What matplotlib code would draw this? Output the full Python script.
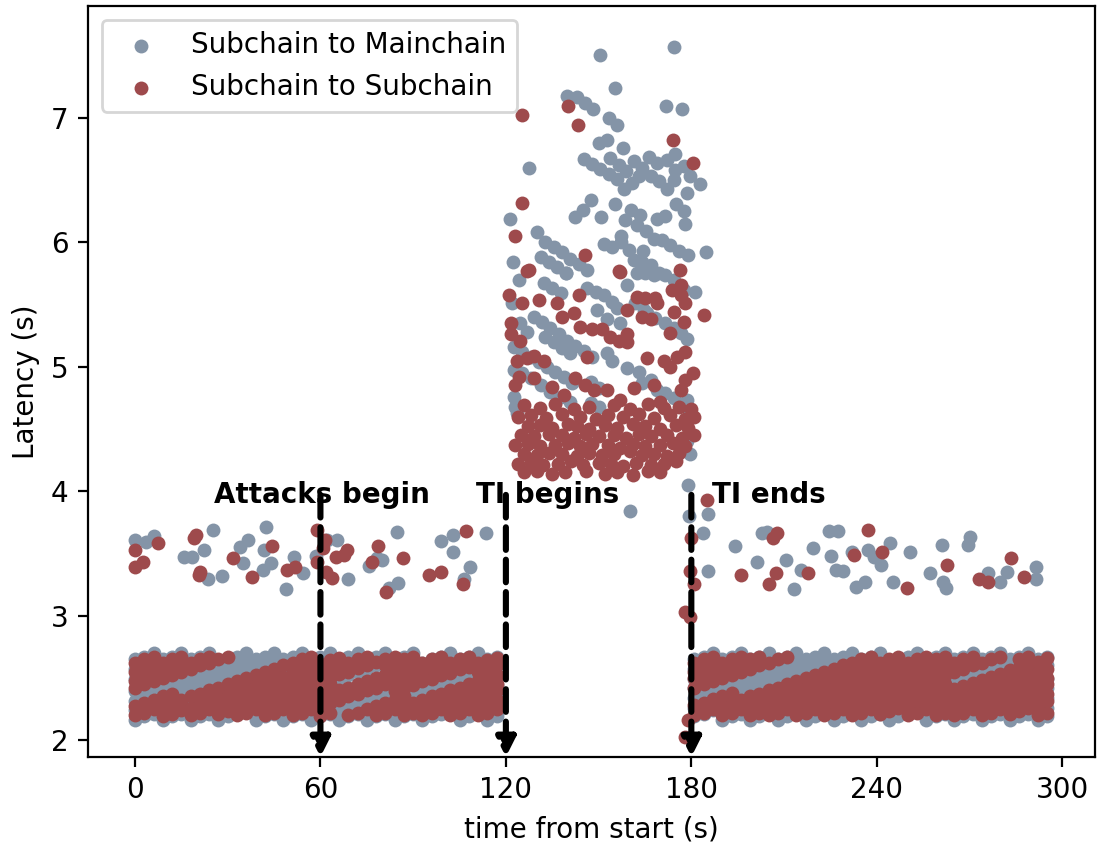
import matplotlib
matplotlib.use("Agg")
import matplotlib.pyplot as plt

GRAY = "#8494a7"
RED = "#9e4a4c"
N = None

# ---------------- time grids of the two dense bands (s) ----------------
t_left = [0, 3, 6, 9, 12, 15, 18, 21, 24, 27, 30, 33, 36, 39, 42, 45, 48, 51, 54, 57,
          60, 63, 66, 69, 72, 75, 78, 81, 84, 87, 90, 93, 96, 99, 102, 105, 108, 111, 114, 117]
t_right = [181, 184, 187, 190, 193, 196, 199, 202, 205, 208, 211, 214, 217, 220, 223, 226, 229,
           232, 235, 238, 241, 244, 247, 250, 253, 256, 259, 262, 265, 268, 271, 274, 277, 280,
           283, 286, 289, 292, 295]

# ---------------- Subchain to Mainchain: stripes of the dense bands ----------------
sm_left_stripes = [
    [2.16,2.19,2.21,2.24,2.26,2.29,2.31,2.34,2.37,2.39,2.42,2.44,2.47,2.49,2.52,2.55,2.57,2.60,2.62,2.65,2.67,2.70,
     2.16,2.19,2.21,2.24,2.26,2.29,2.31,2.34,2.37,2.39,2.42,2.44,2.47,2.49,2.52,2.55,2.57,2.60],
    [2.24,2.26,2.29,2.31,2.34,2.37,2.39,2.42,2.44,2.47,2.49,2.52,2.55,2.57,2.60,2.62,2.65,2.67,2.70,
     2.16,2.19,2.21,2.24,2.26,2.29,2.31,2.34,2.37,2.39,2.42,2.44,2.47,2.49,2.52,2.55,2.57,2.60,2.62,2.65,2.67],
    [2.31,2.34,2.37,2.39,2.42,2.44,2.47,2.49,2.52,2.55,2.57,2.60,2.62,2.65,2.67,2.70,
     2.16,2.19,2.21,2.24,2.26,2.29,2.31,2.34,2.37,2.39,2.42,2.44,2.47,2.49,2.52,2.55,2.57,2.60,2.62,2.65,2.67,2.70,
     2.16,2.19],
    [2.39,2.42,2.44,2.47,2.49,2.52,2.55,2.57,2.60,2.62,2.65,2.67,2.70,
     2.16,2.19,2.21,2.24,2.26,2.29,2.31,2.34,2.37,2.39,2.42,2.44,2.47,2.49,2.52,2.55,2.57,2.60,2.62,2.65,2.67,2.70,
     2.16,2.19,2.21,2.24,2.26],
    [2.49,2.52,2.55,2.57,2.60,2.62,2.65,2.67,2.70,
     2.16,2.19,2.21,2.24,2.26,2.29,2.31,2.34,2.37,2.39,2.42,2.44,2.47,2.49,2.52,2.55,2.57,2.60,2.62,2.65,2.67,2.70,
     2.16,2.19,2.21,2.24,2.26,2.29,2.31,2.34,2.37],
    [2.57,2.60,2.62,2.65,2.67,2.70,
     2.16,2.19,2.21,2.24,2.26,2.29,2.31,2.34,2.37,2.39,2.42,2.44,2.47,2.49,2.52,2.55,2.57,2.60,2.62,2.65,2.67,2.70,
     2.16,2.19,2.21,2.24,2.26,2.29,2.31,2.34,2.37,2.39,2.42,2.44],
    [2.65,2.67,2.70,
     2.16,2.19,2.21,2.24,2.26,2.29,2.31,2.34,2.37,2.39,2.42,2.44,2.47,2.49,2.52,2.55,2.57,2.60,2.62,2.65,2.67,2.70,
     2.16,2.19,2.21,2.24,2.26,2.29,2.31,2.34,2.37,2.39,2.42,2.44,2.47,2.49,2.52],
]
sm_right_stripes = [
    [2.19,2.21,2.24,2.26,2.29,2.31,2.34,2.37,2.39,2.42,2.44,2.47,2.49,2.52,2.55,2.57,2.60,2.62,2.65,2.67,2.70,
     2.16,2.19,2.21,2.24,2.26,2.29,2.31,2.34,2.37,2.39,2.42,2.44,2.47,2.49,2.52,2.55,2.57,2.60],
    [2.26,2.29,2.31,2.34,2.37,2.39,2.42,2.44,2.47,2.49,2.52,2.55,2.57,2.60,2.62,2.65,2.67,2.70,
     2.16,2.19,2.21,2.24,2.26,2.29,2.31,2.34,2.37,2.39,2.42,2.44,2.47,2.49,2.52,2.55,2.57,2.60,2.62,2.65,2.67],
    [2.34,2.37,2.39,2.42,2.44,2.47,2.49,2.52,2.55,2.57,2.60,2.62,2.65,2.67,2.70,
     2.16,2.19,2.21,2.24,2.26,2.29,2.31,2.34,2.37,2.39,2.42,2.44,2.47,2.49,2.52,2.55,2.57,2.60,2.62,2.65,2.67,2.70,
     2.16,2.19],
    [2.42,2.44,2.47,2.49,2.52,2.55,2.57,2.60,2.62,2.65,2.67,2.70,
     2.16,2.19,2.21,2.24,2.26,2.29,2.31,2.34,2.37,2.39,2.42,2.44,2.47,2.49,2.52,2.55,2.57,2.60,2.62,2.65,2.67,2.70,
     2.16,2.19,2.21,2.24,2.26],
    [2.49,2.52,2.55,2.57,2.60,2.62,2.65,2.67,2.70,
     2.16,2.19,2.21,2.24,2.26,2.29,2.31,2.34,2.37,2.39,2.42,2.44,2.47,2.49,2.52,2.55,2.57,2.60,2.62,2.65,2.67,2.70,
     2.16,2.19,2.21,2.24,2.26,2.29,2.31,2.34],
    [2.57,2.60,2.62,2.65,2.67,2.70,
     2.16,2.19,2.21,2.24,2.26,2.29,2.31,2.34,2.37,2.39,2.42,2.44,2.47,2.49,2.52,2.55,2.57,2.60,2.62,2.65,2.67,2.70,
     2.16,2.19,2.21,2.24,2.26,2.29,2.31,2.34,2.37,2.39,2.42],
    [2.65,2.67,2.70,
     2.16,2.19,2.21,2.24,2.26,2.29,2.31,2.34,2.37,2.39,2.42,2.44,2.47,2.49,2.52,2.55,2.57,2.60,2.62,2.65,2.67,2.70,
     2.16,2.19,2.21,2.24,2.26,2.29,2.31,2.34,2.37,2.39,2.42,2.44,2.47,2.49],
]

# ---------------- Subchain to Subchain: stripes of the dense bands (None = no point) ----------------
ss_left_stripes = [
    [2.20,2.22,2.25,2.27,2.30,2.32,2.35,2.37,2.40,2.42,2.45,2.47,2.50,2.52,2.55,2.57,2.60,2.62,2.65,2.67,
     2.19,2.22,N,N,N,N,N,N,2.39,2.42,2.44,2.47,2.49,2.52,2.54,2.57,2.59,2.62,2.64,2.66],
    [2.27,2.30,2.32,2.35,2.37,N,N,N,N,N,N,N,N,N,N,N,N,
     2.20,2.22,2.25,2.27,2.30,2.32,2.35,2.37,2.40,2.42,2.45,2.47,2.50,2.52,2.55,2.57,2.60,2.62,2.65,2.67,
     2.20,2.22,2.25],
    [N,N,N,N,N,N,N,N,N,N,N,N,N,N,
     2.20,2.22,2.25,2.27,2.30,2.32,2.35,2.37,2.40,2.42,2.45,2.47,2.50,2.52,2.55,2.57,2.60,2.62,2.65,2.67,
     2.20,2.22,2.25,2.27,2.30,2.32],
    [2.42,2.45,2.47,2.50,2.52,2.55,2.57,2.60,2.62,2.65,2.67,
     2.20,2.22,2.25,2.27,2.30,2.32,2.35,2.37,2.40,2.42,2.45,N,N,N,N,N,2.60,2.62,2.65,2.67,
     2.20,2.22,2.25,2.27,2.30,2.32,2.35,2.37,2.40],
    [2.47,2.50,2.52,2.55,2.57,2.60,2.62,2.65,2.67,
     2.21,2.23,2.25,2.28,2.30,2.33,2.35,2.38,2.40,2.43,2.45,2.48,2.50,2.53,2.55,2.58,2.60,2.63,2.65,2.67,
     2.20,2.22,2.25,2.27,2.30,2.32,2.35,2.37,2.40,2.42,2.45],
    [2.55,2.57,2.60,2.62,2.65,2.67,
     2.20,2.22,2.25,2.27,2.30,2.32,2.35,2.37,2.40,2.42,2.45,2.47,2.50,2.52,2.55,2.57,2.60,2.62,2.65,2.67,
     2.20,2.22,2.25,2.27,2.30,2.32,2.35,2.37,2.40,2.42,2.45,2.47,2.50,2.52],
    [2.62,2.65,2.67,
     2.19,2.21,2.24,2.26,2.29,2.31,2.34,2.36,2.39,2.41,2.44,2.46,2.49,2.51,2.54,2.56,2.59,2.61,2.64,2.66,
     2.20,2.22,2.25,2.27,2.30,2.32,2.35,N,N,N,N,N,N,N,2.55,2.57,2.60],
]
ss_right_stripes = [
    [2.20,2.22,2.25,2.27,2.30,2.32,2.35,2.37,2.40,2.42,2.45,2.47,2.50,2.52,2.55,2.57,2.60,2.62,2.65,2.67,
     2.21,2.23,2.26,2.28,2.31,2.33,2.36,2.38,2.41,2.43,2.46,2.48,2.51,2.53,2.56,2.58,2.61,2.63,2.66],
    [2.28,2.30,2.33,2.35,2.38,N,N,N,N,N,N,N,N,N,N,N,N,
     2.20,2.22,2.25,2.27,2.30,2.32,2.35,2.37,2.40,2.42,2.45,N,N,N,N,N,N,N,2.65,2.67,
     2.20,2.22],
    [N,N,N,N,N,N,N,N,N,N,N,N,N,N,
     2.20,2.22,2.25,2.27,2.30,2.32,2.35,2.37,2.40,2.42,2.45,2.47,2.50,2.52,2.55,2.57,2.60,2.62,2.65,2.67,
     2.21,2.23,2.26,2.28,2.31],
    [2.42,2.45,2.47,2.50,2.52,2.55,2.57,2.60,2.62,2.65,2.67,
     2.20,2.22,2.25,2.27,2.30,2.32,2.35,2.37,2.40,2.42,2.45,2.47,2.50,2.52,2.55,2.57,2.60,2.62,2.65,2.67,
     2.20,2.22,2.25,2.27,2.30,2.32,2.35,2.37],
    [2.50,2.52,2.55,2.57,2.60,2.62,2.65,2.67,
     2.20,2.22,2.25,2.27,2.30,2.32,2.35,2.37,2.40,2.42,2.45,2.47,2.50,2.52,2.55,2.57,2.60,2.62,2.65,2.67,
     2.20,2.22,2.25,2.27,2.30,2.32,2.35,2.37,2.40,2.42,2.45],
    [2.55,2.57,2.60,2.62,2.65,2.67,
     2.20,2.22,2.25,2.27,2.30,2.32,2.35,2.37,2.40,2.42,2.45,2.47,2.50,2.52,2.55,2.57,2.60,2.62,2.65,2.67,
     2.20,2.22,2.25,2.27,2.30,2.32,2.35,2.37,2.40,2.42,2.45,2.47,2.50],
    [2.62,2.65,2.67,
     2.20,2.22,2.25,2.27,2.30,2.32,2.35,2.37,2.40,2.42,2.45,2.47,2.50,2.52,2.55,2.57,2.60,2.62,2.65,2.67,
     2.20,2.22,2.25,2.27,2.30,2.32,2.35,2.37,2.40,2.42,2.45,2.47,2.50,2.52,2.55,2.57],
]

# ---------------- scattered points (time s, latency s) ----------------
sm_scatter = [
    # before / after the attack, around 3.2-3.7 s
    (0,3.61),(3.5,3.59),(6,3.64),(16,3.47),(18.6,3.47),(22.2,3.53),(25.3,3.69),(23.7,3.29),(28.3,3.32),
    (34,3.55),(36.6,3.61),(35,3.42),(41.6,3.53),(42.3,3.71),(41.3,3.37),(44,3.42),(51.5,3.47),(54.5,3.34),
    (49,3.21),(58.5,3.48),(62,3.61),(65.5,3.61),(69,3.29),(75.7,3.40),(78.4,3.46),(80,3.45),(84.7,3.67),
    (82.2,3.22),(85,3.26),(99.1,3.60),(102.9,3.65),(102.9,3.51),(108.4,3.39),(106.5,3.29),(113.7,3.66),
    (179.1,3.80),(185.4,3.82),(183.8,3.66),(185.4,3.36),(194.2,3.56),(202.8,3.66),(204.5,3.67),(201.4,3.43),
    (210.7,3.45),(213.3,3.21),(215.4,3.37),(219.5,3.54),(225.1,3.48),(224.7,3.68),(227.6,3.68),(226.9,3.37),
    (229.2,3.36),(231.9,3.51),(237,3.53),(239.2,3.47),(241.3,3.41),(244.3,3.58),(250.6,3.51),(233.3,3.23),
    (236.2,3.27),(245.4,3.27),(257.3,3.34),(261,3.57),(261.3,3.27),(262.4,3.22),(270,3.63),(269.4,3.57),
    (276.1,3.34),(279.9,3.27),(282,3.35),(291.5,3.39),(291.4,3.29),
    # during the attack
    (150.6,7.51),(174.5,7.57),(155.4,7.24),(139.8,7.18),(143.0,7.17),(145.7,7.12),(148.2,7.07),(153.3,7.00),
    (155.8,6.94),(171.8,7.10),(177.0,7.07),(150.0,6.80),(152.7,6.82),(157.9,6.76),(127.4,6.60),(145.2,6.67),
    (147.9,6.63),(150.4,6.59),(153.3,6.55),(155.8,6.51),(158.1,6.43),(153.8,6.68),(156.5,6.62),(159.0,6.57),
    (161.4,6.65),(164.1,6.60),(166.2,6.69),(168.9,6.64),(166.8,6.53),(169.5,6.49),(172.1,6.43),(174.6,6.71),
    (172.1,6.66),(177.5,6.61),(179.7,6.53),(182.7,6.47),(174.8,6.58),(174.3,6.50),(178.6,6.40),(175.2,6.31),
    (177.5,6.25),(178.1,6.15),(163.0,6.53),(160.8,6.48),(121.3,6.19),(122.4,5.84),(130.1,6.08),(132.8,6.00),
    (135.5,5.96),(138.2,5.92),(140.9,5.87),(143.6,5.83),(146.3,5.78),(131.2,5.88),(133.9,5.84),(136.6,5.80),
    (139.3,5.75),(142.2,6.20),(145.0,6.26),(147.7,6.34),(150.8,6.20),(155.4,6.31),(158.5,6.18),(160.6,6.26),
    (163.3,6.22),(162.5,6.14),(165.4,6.09),(167.8,6.03),(170.5,6.02),(173.2,5.98),(175.9,5.93),(178.8,5.90),
    (184.9,5.92),(168.9,6.19),(171.6,6.21),(151.7,5.99),(154.4,5.96),(157.1,6.00),(159.8,5.94),(157.1,6.05),
    (164.3,5.93),(161.4,5.86),(164.1,5.84),(166.8,5.82),(169.5,5.75),(171.6,5.74),
    (124.2,5.70),(132.3,5.67),(135.0,5.63),(137.7,5.59),(139.3,5.75),(146.3,5.63),(149.0,5.60),(151.7,5.58),
    (154.4,5.52),(156.0,5.47),(159.2,5.66),(162.4,5.75),(165.1,5.75),(167.8,5.74),(174.3,5.70),(177.5,5.62),
    (181.3,5.60),(122.0,5.51),(161.9,5.51),(164.6,5.46),
    (129.0,5.40),(131.7,5.36),(134.4,5.31),(137.1,5.26),(139.8,5.21),(142.5,5.17),(145.2,5.13),(147.9,5.08),
    (124.7,5.35),(126.9,5.28),(149.5,5.46),(152.7,5.38),(157.0,5.35),(165.7,5.43),(168.4,5.39),(171.6,5.35),
    (174.3,5.31),(176.5,5.27),(178.6,5.22),
    (122.6,5.16),(125.3,5.12),(128.0,5.08),(130.7,5.04),(133.4,5.00),(136.0,4.96),(138.7,4.92),(141.4,4.87),
    (132.8,5.24),(135.5,5.20),(138.2,5.15),(140.9,5.11),(152.7,5.11),(154.4,5.05),(159.2,4.99),(163.0,4.96),
    (122.6,4.97),(125.3,4.95),(128.0,4.91),(131.2,4.85),(134.4,4.80),(137.7,4.76),(140.9,4.72),(122.6,4.76),
    (123.1,4.68),(123.7,4.63),(147.4,4.88),(150.1,4.83),(147.4,4.71),(150.1,4.68),(164.1,4.87),(166.8,4.89),
    (168.9,4.81),(171.6,4.79),(174.3,4.75),(178.6,4.73),(179.2,4.65),(178.6,4.40),(179.7,4.30),(179.0,4.05),
    (160.3,3.84),
]

ss_scatter = [
    (0,3.53),(2.5,3.43),(0,3.39),(7.5,3.58),(19.7,3.65),(19,3.62),(21.1,3.35),(20.8,3.33),(31.6,3.46),
    (38,3.31),(44.2,3.56),(49.1,3.37),(51.8,3.39),(59,3.69),(61.4,3.61),(60.7,3.54),(59,3.43),(61.7,3.35),
    (63.9,3.30),(65,3.47),(67.5,3.49),(68.7,3.53),(78.7,3.56),(76.6,3.43),(86.6,3.46),(81.1,3.19),(95.1,3.33),
    (98.9,3.35),(107,3.68),(106.2,3.25),
    (179.9,3.62),(179.7,3.36),(181,3.25),(178,3.03),(179.7,2.99),(196.2,3.33),(205,3.25),(207.5,3.34),
    (206.4,3.62),(207.7,3.66),(217.7,3.34),(232.7,3.49),(237.3,3.69),(241.8,3.51),(249.7,3.22),(262.6,3.41),
    (273.2,3.29),(276.1,3.27),(283.3,3.46),(287.7,3.31),(185.2,3.93),(179.0,2.16),(178.1,2.02),
    # during the attack
    (125.3,7.02),(140.0,7.10),(143.3,6.94),(174.1,6.82),(180.5,6.64),(125.1,6.32),(122.9,6.05),(126.9,5.77),
    (145.7,5.90),(156.8,5.76),(176.2,5.78),
    (127.4,5.78),(121.0,5.58),(125.3,5.51),(130.7,5.54),(136.6,5.51),(143.6,5.58),(156.5,5.77),(176.5,5.66),
    (173.8,5.62),(162.4,5.56),(165.1,5.55),(168.4,5.55),(168.9,5.51),(159.2,5.46),(178.1,5.51),(176.5,5.58),
    (184.0,5.42),(121.5,5.35),(121.5,5.26),(124.7,5.21),(138.2,5.40),(142.0,5.43),(144.1,5.32),(147.9,5.30),
    (151.1,5.30),(153.8,5.24),(156.5,5.21),(159.2,5.26),(164.1,5.40),(166.8,5.38),(174.3,5.44),(173.2,5.27),
    (177.5,5.36),(178.0,5.12),
    (123.7,5.05),(126.9,5.07),(129.0,5.09),(132.3,5.05),(146.3,5.08),(159.2,5.20),(171.1,5.05),(173.2,5.00),
    (175.4,5.08),(165.7,5.07),(180.5,4.95),
    (124.2,4.92),(123.1,4.85),(129.0,4.91),(135.0,4.84),(138.7,4.77),(142.5,4.91),(145.7,4.85),(148.4,4.81),
    (152.7,4.81),(161.4,4.83),(167.8,4.85),(170.0,4.72),(176.5,4.81),(178.1,4.89),(157.0,4.73),
    (126,4.69),(131,4.67),(136,4.70),(142,4.66),(147,4.68),(155,4.69),(160,4.66),(166,4.70),(171,4.67),
    (176,4.68),(180,4.66),
    (124,4.60),(128,4.61),(133,4.59),(138,4.62),(144,4.60),(149,4.58),(153,4.61),(158,4.60),(163,4.62),
    (168,4.59),(173,4.61),(178,4.58),(181,4.60),
    (127,4.52),(131,4.53),(135,4.51),(140,4.54),(143,4.52),(147,4.50),(152,4.53),(156,4.51),(161,4.54),
    (165,4.52),(170,4.50),(175,4.53),(179,4.51),
    (125,4.45),(129,4.44),(134,4.46),(138,4.45),(142,4.43),(146,4.46),(150,4.44),(155,4.45),(159,4.43),
    (163,4.46),(167,4.44),(172,4.45),(177,4.43),(181,4.45),
    (123,4.37),(127,4.38),(131,4.36),(136,4.37),(140,4.39),(144,4.36),(148,4.38),(153,4.37),(157,4.35),
    (161,4.38),(165,4.36),(170,4.37),(174,4.39),(178,4.36),
    (126,4.30),(130,4.29),(134,4.31),(138,4.30),(143,4.28),(147,4.31),(151,4.29),(155,4.30),(160,4.32),
    (164,4.29),(168,4.30),(172,4.28),(176,4.31),
    (124,4.22),(128,4.23),(132,4.21),(137,4.22),(141,4.24),(145,4.21),(150,4.23),(154,4.22),(158,4.20),
    (162,4.23),(167,4.21),(171,4.22),(175,4.24),
    (126,4.15),(130,4.16),(135,4.14),(139,4.15),(146,4.16),(152,4.14),(156,4.15),(161,4.13),(166,4.16),
    (170,4.15),
]

# ---------------- events ----------------
event_times = [60, 120, 180]
event_labels = ["Attacks begin", "TI begins", "TI ends"]
event_label_x = [60.4, 133.5, 205]
x_ticks = [0, 60, 120, 180, 240, 300]
y_ticks = [2, 3, 4, 5, 6, 7]


def collect(grids_and_stripes, extra):
    xs, ys = [], []
    for ts, stripes in grids_and_stripes:
        for stripe in stripes:
            for t, v in zip(ts, stripe):
                if v is not None:
                    xs.append(t)
                    ys.append(v)
    for t, v in extra:
        xs.append(t)
        ys.append(v)
    return xs, ys


sm_x, sm_y = collect([(t_left, sm_left_stripes), (t_right, sm_right_stripes)], sm_scatter)
ss_x, ss_y = collect([(t_left, ss_left_stripes), (t_right, ss_right_stripes)], ss_scatter)

plt.rcParams["font.family"] = ["DejaVu Sans"]
plt.rcParams["font.size"] = 10

fig = plt.figure(figsize=(1097 / 200, 843 / 200), dpi=200)
ax = fig.add_axes([88 / 1097, 86 / 843, (1095 - 88) / 1097, (757 - 6) / 843])

ax.scatter(sm_x, sm_y, s=25, color=GRAY, linewidths=0, label="Subchain to Mainchain", zorder=2)
ax.scatter(ss_x, ss_y, s=25, color=RED, linewidths=0, label="Subchain to Subchain", zorder=3)

ymin, ymax = 1.863, 7.90
ax.set_xlim(-15.2, 310.6)
ax.set_ylim(ymin, ymax)

for t, lab, lx in zip(event_times, event_labels, event_label_x):
    ax.annotate("", xy=(t, ymin), xytext=(t, 3.97),
                arrowprops=dict(arrowstyle="-|>", color="black", lw=2.2, linestyle="--",
                                mutation_scale=14, shrinkA=0, shrinkB=0),
                zorder=5)
    ax.text(lx, 3.905, lab, ha="center", va="baseline", fontsize=10, fontweight="bold",
            zorder=6)

ax.set_xticks(x_ticks)
ax.set_yticks(y_ticks)
ax.set_xlabel("time from start (s)")
ax.set_ylabel("Latency (s)")
ax.legend(loc="upper left", fontsize=10)

fig.savefig("out.png", dpi=200)
